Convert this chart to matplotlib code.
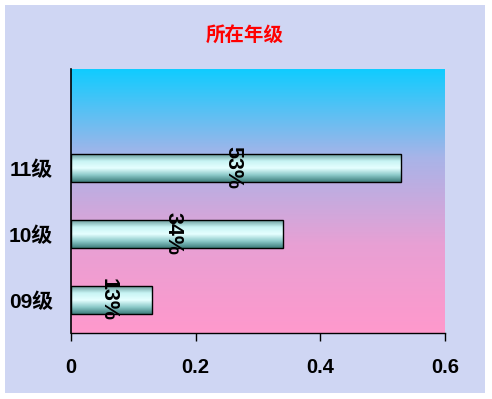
import numpy as np
import matplotlib.pyplot as plt
from matplotlib.colors import LinearSegmentedColormap
from matplotlib.patches import Rectangle

# data
categories = ["09级", "10级", "11级", ""]
values = [0.13, 0.34, 0.53, None]
labels = ["13%", "34%", "53%", ""]
title = "所在年级"
xticks = [0, 0.2, 0.4, 0.6]

plt.rcParams['font.family'] = ['Liberation Sans', 'Noto Sans CJK SC', 'DejaVu Sans']

fig = plt.figure(figsize=(4.92, 3.99), dpi=100)
fig.patch.set_facecolor("white")
# textured outer area (approximated by a flat pastel colour)
fig.patches.append(Rectangle((5 / 492, 6 / 399), 480 / 492, 388 / 399,
                             transform=fig.transFigure, facecolor="#cfd6f3",
                             edgecolor="none", zorder=-10))

ax = fig.add_axes([71 / 492, 66 / 399, 374 / 492, 264 / 399])
ax.set_zorder(5)

# plot-area gradient: cyan on top, pink at bottom
bg_cmap = LinearSegmentedColormap.from_list(
    "bg", ["#ff99cc", "#e8a0d4", "#a8b4e8", "#10ccff"])
grad = np.linspace(0, 1, 256).reshape(-1, 1)
ax.imshow(grad, cmap=bg_cmap, origin="lower", aspect="auto",
          extent=[0, 0.6, -0.5, 3.5], zorder=0)

# cylinder-like bars
bar_cmap = LinearSegmentedColormap.from_list(
    "bar", ["#3d7c7a", "#8ccaca", "#e6ffff", "#c8f4f4", "#6a9c9c"])
h = 0.41
for i, v in enumerate(values):
    if v is None:
        continue
    ax.imshow(grad, cmap=bar_cmap, origin="lower", aspect="auto",
              extent=[0, v, i - h / 2, i + h / 2], zorder=2)
    ax.barh(i, v, height=h, facecolor="none", edgecolor="black",
            linewidth=1, zorder=3)
    ax.text(v / 2 - 0.006, i, labels[i], rotation=-90, ha="center",
            va="center", fontsize=15.5, fontweight="bold", color="black",
            zorder=4)

ax.set_xlim(0, 0.6)
ax.set_ylim(-0.5, 3.5)
ax.set_xticks(xticks)
ax.set_xticklabels(["0", "0.2", "0.4", "0.6"])
ax.set_yticks(range(len(categories)))
ax.set_yticklabels(categories)
ax.tick_params(axis="x", direction="out", length=6, width=1, pad=12,
               labelsize=14.5)
ax.tick_params(axis="y", length=0, pad=13, labelsize=15)
for lab in ax.get_xticklabels() + ax.get_yticklabels():
    lab.set_fontweight("bold")

ax.spines["top"].set_visible(False)
ax.spines["right"].set_visible(False)
ax.spines["left"].set_linewidth(1.2)
ax.spines["bottom"].set_linewidth(1)

fig.text(245 / 492, 1 - 35 / 399, title, color="red", fontsize=14,
         fontweight="bold", ha="center", va="center",
         family=["Noto Sans CJK SC"])

fig.savefig("out.png", dpi=100)
